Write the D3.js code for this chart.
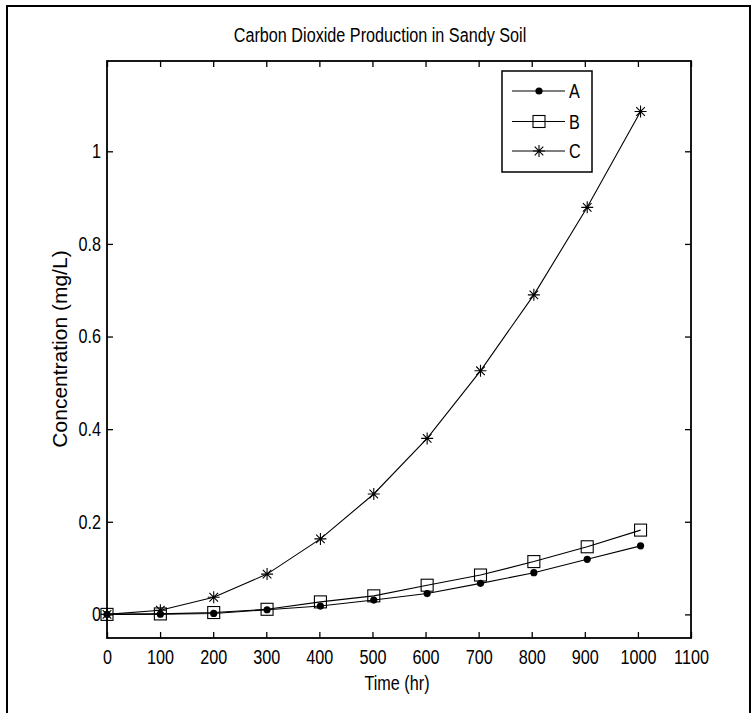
<!DOCTYPE html>
<html>
<head>
<meta charset="utf-8">
<script src="https://cdn.jsdelivr.net/npm/d3@7"></script>
<style>
  html, body { margin: 0; padding: 0; background: #fff; }
  svg text { font-family: "Liberation Sans", Arial, sans-serif; fill: #000; }
</style>
</head>
<body>
<svg id="chart" width="755" height="713"></svg>
<script>
// ---- data ----
const times = [0, 100.5, 201, 301.5, 402, 502.5, 603, 703.5, 804, 904.5, 1005];
const seriesA = [0, 0.0005, 0.002, 0.010, 0.018, 0.031, 0.045, 0.067, 0.090, 0.119, 0.148];
const seriesB = [0, 0.001, 0.004, 0.011, 0.027, 0.040, 0.063, 0.085, 0.114, 0.146, 0.182];
const seriesC = [0, 0.009, 0.037, 0.087, 0.163, 0.260, 0.380, 0.526, 0.690, 0.879, 1.086];
const seriesNames = ["A", "B", "C"];
const xTicks = [0, 100, 200, 300, 400, 500, 600, 700, 800, 900, 1000, 1100];
const yTicks = [0, 0.2, 0.4, 0.6, 0.8, 1];
const titleText = "Carbon Dioxide Production in Sandy Soil";
const xLabel = "Time (hr)";
const yLabel = "Concentration (mg/L)";

// ---- layout ----
const svg = d3.select("#chart");
const L = 107, R = 691, T = 61, B = 638;
const x = d3.scaleLinear().domain([0, 1100]).range([L, R]);
const y = d3.scaleLinear().domain([-0.051, 1.195]).range([B, T]);
const fontSize = 20;
const narrow = 0.81; // horizontal compression to mimic a narrow sans face

// outer figure frame
svg.append("rect").attr("x", 7).attr("y", 6).attr("width", 743).attr("height", 720)
  .attr("fill", "none").attr("stroke", "#000").attr("stroke-width", 2);

// axes with inward ticks on all four sides
const tickLen = 6;
const axB = svg.append("g").attr("transform", `translate(0,${B})`)
  .call(d3.axisBottom(x).tickValues(xTicks).tickSize(-tickLen).tickPadding(12).tickFormat(d3.format("d")));
const axT = svg.append("g").attr("transform", `translate(0,${T})`)
  .call(d3.axisTop(x).tickValues(xTicks).tickSize(-tickLen).tickFormat(""));
const axL = svg.append("g").attr("transform", `translate(${L},0)`)
  .call(d3.axisLeft(y).tickValues(yTicks).tickSize(-tickLen).tickPadding(6).tickFormat(d => d === 0 ? "0" : d3.format("")(d)));
const axR = svg.append("g").attr("transform", `translate(${R},0)`)
  .call(d3.axisRight(y).tickValues(yTicks).tickSize(-tickLen).tickFormat(""));
[axB, axT, axL, axR].forEach(g => {
  g.select(".domain").remove();
  g.selectAll(".tick line").attr("stroke", "#000").attr("stroke-width", 1.3);
  g.selectAll("text").attr("font-size", fontSize).attr("font-family", null).attr("fill", "#000");
});
axB.selectAll("text").attr("dy", "0.71em").attr("transform", `scale(${narrow},1)`);
axL.selectAll("text").attr("x", -6 / narrow).attr("transform", `scale(${narrow},1)`);
// plot box
svg.append("rect").attr("x", L).attr("y", T).attr("width", R - L).attr("height", B - T)
  .attr("fill", "none").attr("stroke", "#000").attr("stroke-width", 1.8);

// ---- series ----
const line = d3.line().x((d, i) => x(times[i])).y(d => y(d));
const allSeries = [seriesA, seriesB, seriesC];
const g = svg.append("g");
allSeries.forEach(s => {
  g.append("path").datum(s).attr("d", line).attr("fill", "none")
    .attr("stroke", "#000").attr("stroke-width", 1.1);
});

function drawMarker(sel, kind, cx, cy) {
  if (kind === "A") {
    sel.append("circle").attr("cx", cx).attr("cy", cy).attr("r", 3.6).attr("fill", "#000");
  } else if (kind === "B") {
    sel.append("rect").attr("x", cx - 6).attr("y", cy - 6).attr("width", 12).attr("height", 12)
      .attr("fill", "none").attr("stroke", "#000").attr("stroke-width", 1.1);
  } else {
    const r = 6, d = 4.3;
    const p = `M${cx - r},${cy}L${cx + r},${cy}M${cx},${cy - r}L${cx},${cy + r}` +
      `M${cx - d},${cy - d}L${cx + d},${cy + d}M${cx - d},${cy + d}L${cx + d},${cy - d}`;
    sel.append("path").attr("d", p).attr("stroke", "#000").attr("stroke-width", 1.1).attr("fill", "none");
  }
}
allSeries.forEach((s, k) => {
  s.forEach((v, i) => drawMarker(g, seriesNames[k], x(times[i]), y(v)));
});

// ---- legend ----
const lg = svg.append("g");
lg.append("rect").attr("x", 502).attr("y", 71).attr("width", 90).attr("height", 101)
  .attr("fill", "#fff").attr("stroke", "#000").attr("stroke-width", 1.5);
const rowY = [91, 121.5, 151];
seriesNames.forEach((n, k) => {
  lg.append("line").attr("x1", 512).attr("x2", 565).attr("y1", rowY[k]).attr("y2", rowY[k])
    .attr("stroke", "#000").attr("stroke-width", 1.1);
  drawMarker(lg, n, 539, rowY[k]);
  lg.append("text").attr("transform", `translate(569,${rowY[k]}) scale(${narrow},1)`)
    .attr("dy", "0.36em").attr("font-size", fontSize).text(n);
});

// ---- titles ----
svg.append("text").attr("transform", `translate(380,42) scale(${narrow},1)`)
  .attr("text-anchor", "middle").attr("font-size", fontSize).text(titleText);
svg.append("text").attr("transform", `translate(397,690) scale(${narrow},1)`)
  .attr("text-anchor", "middle").attr("font-size", fontSize).text(xLabel);
svg.append("text").attr("transform", `translate(67,349) rotate(-90)`)
  .attr("text-anchor", "middle").attr("font-size", 21).text(yLabel);
</script>
</body>
</html>
